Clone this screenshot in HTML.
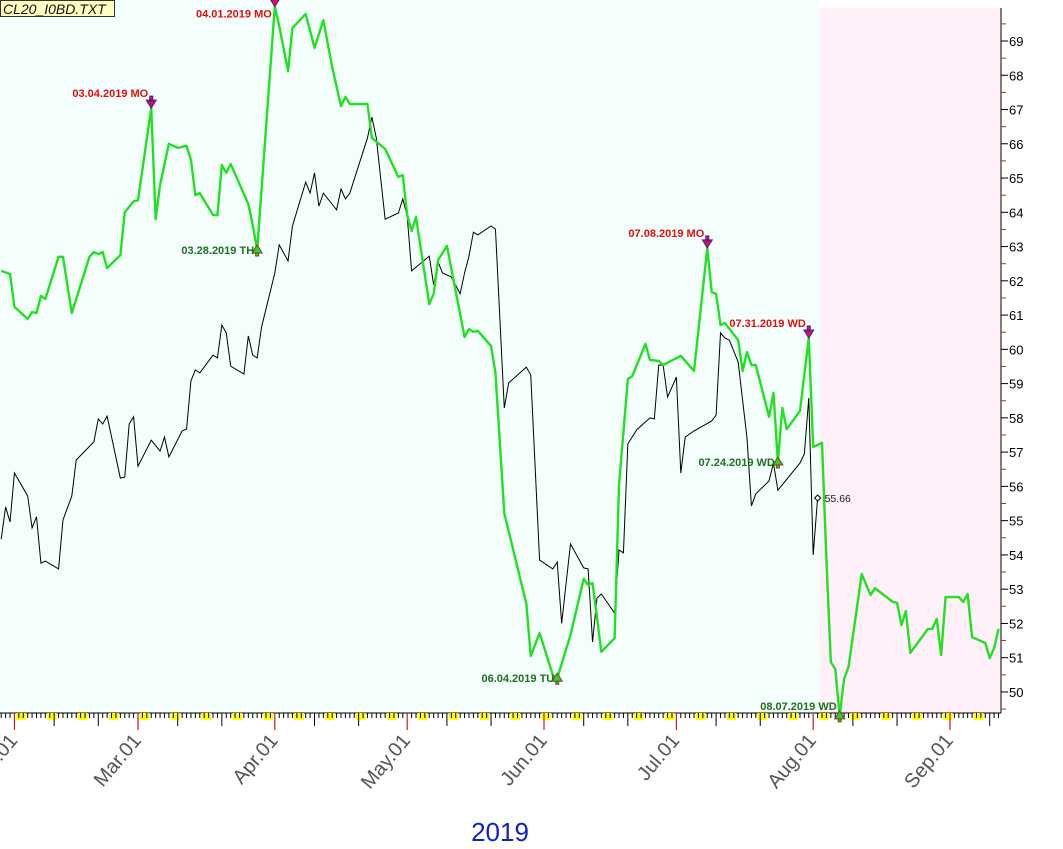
<!DOCTYPE html>
<html><head><meta charset="utf-8">
<style>
html,body{margin:0;padding:0;background:#fff;width:1063px;height:849px;overflow:hidden;font-family:"Liberation Sans",sans-serif}
#title{position:absolute;left:0;top:0;width:115px;height:17px;background:#ffffc0;border:1px solid #333;font-style:italic;font-size:14px;line-height:17px;padding-left:2px;box-sizing:border-box;color:#111}
</style></head><body>
<svg id="chart" width="1063" height="849" style="position:absolute;left:0;top:0"></svg>
<div id="title">CL20_I0BD.TXT</div>
<script>
// day offsets from 2019-03-01
const greenDays=[-31,-29,-28,-25,-24,-23,-22,-21,-18,-17,-15,-11,-10,-9,-8,-7,-4,-3,-1,0,3,4,5,7,9,11,12,13,14,17,18,19,20,21,25,26,27,31,32,34,35,38,40,42,44,46,47,48,52,53,56,
59,60,61,62,63,66,67,68,70,74,75,76,77,80,81,83,88,89,91,94,95,98,101,102,103,105,108,109,111,112,115,116,118,119,123,126,129,130,131,132,133,136,137,138,139,140,143,144,145,146,147,150,152,153,155,
156,157,158,159,160,161,164,166,167,171,172,173,174,175,179,180,181,182,183,186,187,188,189,192,193,194,195];
const greenVals=[62.29,62.20,61.24,60.89,61.09,61.06,61.56,61.47,62.70,62.70,61.06,62.70,62.84,62.78,62.84,62.37,62.75,64.00,64.32,64.35,67.04,63.80,64.80,66.00,65.88,65.94,65.53,64.50,64.56,63.92,63.92,65.38,65.15,65.41,64.24,63.63,62.90,70.0,69.44,68.12,69.38,69.79,68.80,69.61,68.24,67.10,67.37,67.16,67.16,66.17,65.85,
65.03,65.09,63.92,63.45,63.86,61.32,61.62,62.61,63.02,60.36,60.59,60.51,60.54,60.10,59.31,55.22,52.57,51.05,51.72,50.49,50.40,51.66,53.30,53.12,53.18,51.17,51.57,56.04,59.13,59.22,60.16,59.69,59.66,59.54,59.81,59.37,62.96,61.67,61.62,60.71,60.77,60.27,59.37,59.92,59.54,59.54,58.03,58.73,56.71,58.29,57.67,58.20,60.33,57.15,57.27,
53.85,50.87,50.67,49.3,50.38,50.73,53.44,52.83,53.03,52.63,52.60,51.95,52.36,51.14,51.84,51.84,52.13,51.08,52.77,52.77,52.63,52.86,51.6,51.43,50.99,51.28,51.84];
const blackDays=[-31,-30,-29,-28,-25,-24,-23,-22,-21,-18,-17,-15,-14,-10,-9,-8,-7,-4,-3,-2,-1,0,3,5,6,7,10,11,12,13,14,17,18,19,20,21,24,25,26,27,28,31,32,34,35,38,39,40,41,42,45,46,47,48,52,53,54,56,59,60,61,62,
66,67,68,69,71,73,74,75,76,77,80,81,83,84,88,89,91,94,95,96,98,101,102,103,104,105,108,109,110,111,113,116,117,118,119,120,122,123,124,126,130,131,132,133,134,136,138,139,140,143,144,145,150,151,152,153,154];
const blackVals=[54.46,55.40,54.96,56.39,55.72,54.79,55.11,53.76,53.82,53.59,55.02,55.72,56.77,57.30,57.97,57.82,58.05,56.24,56.27,57.82,58.03,56.59,57.35,57.03,57.44,56.86,57.62,57.67,59.08,59.40,59.31,59.83,59.75,60.71,60.48,59.51,59.28,60.39,59.83,59.75,60.65,62.23,63.05,62.58,63.60,64.88,64.56,65.15,64.18,64.56,64.07,64.68,64.39,64.56,66.17,66.78,66.17,63.80,63.98,64.39,63.89,62.29,
62.72,61.88,62.55,62.23,62.11,61.62,62.23,62.72,63.42,63.34,63.60,63.51,58.29,59.02,59.48,59.25,53.85,53.59,53.79,52.0,54.32,53.62,53.59,51.46,52.74,52.86,52.30,54.14,54.06,57.24,57.65,58.0,57.97,59.54,59.54,58.61,59.19,56.39,57.44,57.62,57.91,58.08,60.48,60.33,60.27,59.63,57.41,55.43,55.78,56.16,56.68,55.89,56.68,56.95,58.58,54.0,55.66];
const peakDays=[3,31,129,152];
const peakLabels=["03.04.2019 MO","04.01.2019 MO","07.08.2019 MO","07.31.2019 WD"];
const troughDays=[27,95,145,159];
const troughLabels=["03.28.2019 TH","06.04.2019 TU","07.24.2019 WD","08.07.2019 WD"];
const yTicks=[50,51,52,53,54,55,56,57,58,59,60,61,62,63,64,65,66,67,68,69];
const monthDays=[-28,0,31,61,92,122,153,184];
const monthLabels=["Feb.01","Mar.01","Apr.01","May.01","Jun.01","Jul.01","Aug.01","Sep.01"];
const lastValue=55.66;

const NS="http://www.w3.org/2000/svg";
const svg=document.getElementById('chart');
const X=d=>138+d*4.413;
const Y=v=>41+(69-v)*34.26;
const PLOT_R=1001, PLOT_B=713, SHADE_X=X(154.5);
function el(tag,attrs,parent){const e=document.createElementNS(NS,tag);for(const k in attrs)e.setAttribute(k,attrs[k]);(parent||svg).appendChild(e);return e;}

let r=el('rect',{x:0,y:0,width:SHADE_X,height:PLOT_B,fill:'#f4fffd'});


r=el('rect',{x:SHADE_X,y:8,width:PLOT_R-SHADE_X,height:PLOT_B-8,fill:'#fff0fa'});



// y axis
let ax=el('line',{x1:PLOT_R,y1:8,x2:PLOT_R,y2:PLOT_B,stroke:'#000','stroke-width':1});


yTicks.forEach(v=>{
  el('line',{x1:PLOT_R,y1:Y(v),x2:PLOT_R+7,y2:Y(v),stroke:'#000'});
  el('line',{x1:PLOT_R,y1:Y(v+0.5),x2:PLOT_R+5,y2:Y(v+0.5),stroke:'#a03030'});
  const t=el('text',{x:PLOT_R+8,y:Y(v)+5,'font-size':13,fill:'#000','font-family':'Liberation Sans, sans-serif'});
  t.textContent=v;
  
  
});
el('line',{x1:PLOT_R,y1:Y(49.5),x2:PLOT_R+5,y2:Y(49.5),stroke:'#a03030'});

// x axis
ax=el('line',{x1:0,y1:PLOT_B,x2:PLOT_R,y2:PLOT_B,stroke:'#000'});


for(let d=-31;d<=196;d++){
  const x=X(d);if(x<0||x>PLOT_R)continue;
  const dt=new Date(2019,2,1+d);const wd=dt.getDay();
  if(wd===6) el('rect',{x:x-2.5,y:PLOT_B,width:9.4,height:7,fill:'#ffff00'});
}
for(let d=-31;d<=196;d++){
  const x=X(d);if(x<0||x>PLOT_R)continue;
  const dt=new Date(2019,2,1+d);const dom=dt.getDate();
  if(dom===1) el('line',{x1:x,y1:PLOT_B,x2:x,y2:PLOT_B+17,stroke:'#c02020','stroke-width':1.2});
  else if(dom===10||dom===20) el('line',{x1:x,y1:PLOT_B,x2:x,y2:PLOT_B+13,stroke:'#000'});
  else el('line',{x1:x,y1:PLOT_B,x2:x,y2:PLOT_B+5,stroke:'#000'});
}
monthDays.forEach((d,i)=>{
  const x=X(d)+4,y=PLOT_B+28;
  const t=el('text',{x:x,y:y,'text-anchor':'end','font-size':20,fill:'#555','font-family':'Liberation Sans, sans-serif',transform:`rotate(-50 ${x} ${y})`});
  t.textContent=monthLabels[i];
  
  
});
let yr=el('text',{x:500,y:841,'text-anchor':'middle','font-size':26,fill:'#1020d0','font-family':'Liberation Sans, sans-serif'});
yr.textContent='2019';



// series
const clip=el('clipPath',{id:'pc'});el('rect',{x:0,y:0,width:PLOT_R,height:PLOT_B+6},clip);
let bl=el('polyline',{points:blackDays.map((d,i)=>X(d)+','+Y(blackVals[i])).join(' '),fill:'none',stroke:'#000','stroke-width':1,'clip-path':'url(#pc)'});


let gl=el('polyline',{points:greenDays.map((d,i)=>X(d)+','+Y(greenVals[i])).join(' '),fill:'none',stroke:'#22e022','stroke-width':2.4,'stroke-linejoin':'round','clip-path':'url(#pc)'});



function valAt(days,vals,d){const i=days.indexOf(d);return vals[i];}
peakDays.forEach((d,i)=>{
  const x=X(d),y=Y(valAt(greenDays,greenVals,d));
  const g=el('g',{});
  
  
  el('path',{d:`M${x-5},${y-8} L${x+5},${y-8} L${x},${y} Z M${x-1.5},${y-12} h3 v5 h-3 Z`,fill:'#e0104a',stroke:'#4020a0','stroke-width':1},g);
  const ty=y<30?y+11:y-11;
  const t=el('text',{x:x-3,y:ty,'text-anchor':'end','font-size':11,'font-weight':'bold',fill:'#e01010','font-family':'Liberation Sans, sans-serif'},g);
  t.textContent=peakLabels[i];
});
troughDays.forEach((d,i)=>{
  const x=X(d),y=Y(valAt(greenDays,greenVals,d));
  const g=el('g',{});
  
  
  el('path',{d:`M${x-5},${y+3} L${x+5},${y+3} L${x},${y-5} Z M${x-1.5},${y+3} h3 v3 h-3 Z`,fill:'#30d030',stroke:'#804020','stroke-width':1},g);
  const ty=y>PLOT_B-15?y-6:y+4;
  const t=el('text',{x:x-3,y:ty,'text-anchor':'end','font-size':11,'font-weight':'bold',fill:'#207020','font-family':'Liberation Sans, sans-serif'},g);
  t.textContent=troughLabels[i];
});
// last value
const lx=X(blackDays[blackDays.length-1]),ly=Y(lastValue);
let lm=el('path',{d:`M${lx},${ly-3} L${lx+3},${ly} L${lx},${ly+3} L${lx-3},${ly} Z`,fill:'#fff',stroke:'#000'});


let lt=el('text',{x:lx+7,y:ly+4,'font-size':10.5,fill:'#222','font-family':'Liberation Sans, sans-serif'});
lt.textContent=lastValue.toFixed(2);


</script>
</body></html>
